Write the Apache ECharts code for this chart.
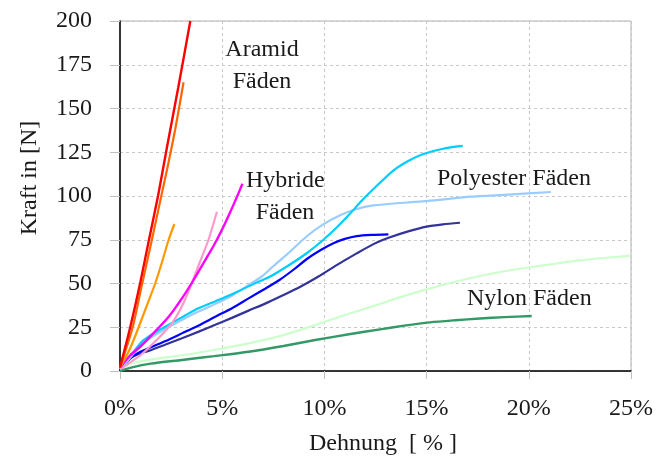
<!DOCTYPE html>
<html><head><meta charset="utf-8">
<script src="https://cdn.jsdelivr.net/npm/echarts@6/dist/echarts.min.js"></script>
<style>html,body{margin:0;padding:0;background:#fff}#c{width:658px;height:461px}</style>
</head><body><div id="c"></div>
<script>
// x: Dehnung in %, y: Kraft in N
const xTicks = [0, 5, 10, 15, 20, 25];
const yTicks = [0, 25, 50, 75, 100, 125, 150, 175, 200];

const aramid1 = [[0,2],[0.5,25],[1,51],[1.4,74],[1.86,100],[2.3,128],[2.85,162],[3.44,200]];
const aramid2 = [[0,2],[0.62,25],[1.05,48],[1.56,75],[2.02,100],[2.3,115],[2.7,138],[3.11,165]];
const aramid3 = [[0,2],[0.5,13],[0.91,25],[1.3,37],[1.72,50],[2.05,62],[2.38,75],[2.66,84]];
const hybrid1 = [[0,2],[0.5,9],[1,14],[1.56,20.6],[2.38,31],[3.03,41.5],[3.6,52],[4.1,62],[4.6,72],[5.0,81],[5.4,91],[5.72,99.5],[5.99,107]];
const hybrid2 = [[0,1],[0.5,5],[1,9],[1.72,16.8],[2.54,27.3],[3.03,37],[3.44,48],[3.9,62],[4.33,75],[4.74,91]];
const poly1 = [[0,2],[0.3,6],[0.67,11],[1.07,16.8],[1.5,20.5],[2.21,25.3],[3.0,30.5],[3.84,35.8],[4.7,40],[5.5,44],[6.5,49.5],[7.35,54],[8.2,60],[9.1,67],[9.95,75],[10.6,82],[11.26,90],[11.8,97],[12.4,104],[13.37,114.5],[14.1,120],[14.84,124],[15.8,127],[16.77,128.6]];
const poly2 = [[0,2],[0.3,5],[0.67,10],[1.07,15],[1.5,19],[2.21,24],[3.0,29],[3.84,34],[4.7,38.5],[5.47,43],[6.2,48.5],[6.94,54],[7.51,60],[8.3,68],[9.14,77],[9.9,83.5],[10.77,89],[11.5,92.3],[12.4,94.6],[14.03,96.3],[15.5,97.6],[17.12,99.6],[19,100.8],[21.08,102.3]];
const poly3 = [[0,2],[0.3,5],[0.59,8.2],[1.0,11],[1.4,13],[2.2,17],[3.03,21.5],[3.85,26],[4.66,31],[5.5,36],[6.29,41.5],[7.1,47],[7.8,52],[8.5,58],[9.14,64],[9.8,69],[10.44,73],[11.0,75.5],[11.58,77.1],[12.3,77.8],[13.13,78.1]];
const poly4 = [[0,2],[0.3,5],[0.6,8],[1.0,10],[1.4,11.5],[2.2,15],[3.03,18.7],[3.85,22.5],[4.66,26.4],[5.5,30.5],[6.29,34.5],[7.1,38.5],[7.92,43],[8.8,48],[9.71,54],[10.6,60.5],[11.58,67.2],[12.4,72.5],[13.21,76.4],[14.1,79.8],[15.0,82.5],[15.8,83.8],[16.63,84.7]];
const nylon1 = [[0,1],[0.59,4.4],[1.5,6.5],[3.03,9],[4.6,12],[6.29,15.8],[8,20.5],[9.55,26.3],[11,32],[12.5,37.5],[13.8,42.5],[15.17,47.2],[16.4,51],[17.61,54.3],[18.8,57],[20.06,59.3],[21.3,61.3],[22.5,63.2],[23.8,64.7],[25,65.9]];
const nylon2 = [[0,0],[0.59,2.1],[1.5,4.2],[3.03,6.3],[4.6,8.5],[6.29,11],[8,14.3],[9.55,17.7],[11.2,21],[12.72,23.8],[13.9,25.9],[15.17,27.8],[16.4,29.0],[17.61,30.0],[18.8,30.8],[20.14,31.4]];

const seriesDefs = [
  {data: nylon1, color: '#CCFFCC', w: 2.2},
  {data: nylon2, color: '#339966', w: 2.4},
  {data: poly4, color: '#333399', w: 2.2},
  {data: poly3, color: '#0000FF', w: 2.2},
  {data: poly2, color: '#99CCFF', w: 2.2},
  {data: poly1, color: '#00CCFF', w: 2.2},
  {data: hybrid2, color: '#FF99CC', w: 2.2},
  {data: hybrid1, color: '#FF00FF', w: 2.4},
  {data: aramid3, color: '#FF9900', w: 2.2},
  {data: aramid2, color: '#FF6600', w: 2.2},
  {data: aramid1, color: '#FF0000', w: 2.4}
];

const FONT = 'Liberation Serif';
const FS = 24;
const TXT = '#1a1a1a';
const chart = echarts.init(document.getElementById('c'), null, {renderer: 'canvas'});
const labelStyle = (x, y, text, align, rot) => ({
  type: 'text', x: x, y: y, rotation: rot || 0,
  style: {text: text, font: FS + 'px "' + FONT + '"', fill: TXT, textAlign: align || 'center', textVerticalAlign: 'middle'}
});
chart.setOption({
  animation: false,
  grid: {left: 120, right: 27, top: 21, bottom: 90, show: true, borderColor: '#b0b0b0', borderWidth: 1,
         containLabel: false, outerBoundsMode: 'none'},
  xAxis: {
    type: 'value', min: xTicks[0], max: xTicks[xTicks.length - 1], interval: 5,
    axisLine: {show: true, onZero: false, lineStyle: {color: '#000', width: 1.5}},
    axisTick: {show: true, length: 8, lineStyle: {color: '#c0c0c0'}},
    axisLabel: {formatter: '{value}%', fontFamily: FONT, fontSize: FS, color: TXT, margin: 26},
    splitLine: {show: true, lineStyle: {color: '#c8c8c8', type: [3, 3], width: 1}}
  },
  yAxis: {
    type: 'value', min: yTicks[0], max: yTicks[yTicks.length - 1], interval: 25,
    axisLine: {show: true, onZero: false, lineStyle: {color: '#000', width: 1.5}},
    axisTick: {show: true, length: 10, lineStyle: {color: '#c0c0c0'}},
    axisLabel: {fontFamily: FONT, fontSize: FS, color: TXT, margin: 28},
    splitLine: {show: true, lineStyle: {color: '#c8c8c8', type: [3, 3], width: 1}}
  },
  series: seriesDefs.map(s => ({
    type: 'line', data: s.data, smooth: 0.25, showSymbol: false, symbol: 'none',
    lineStyle: {color: s.color, width: s.w}, itemStyle: {color: s.color}, clip: true, z: 3
  })),
  graphic: [
    labelStyle(383, 444, 'Dehnung  [ % ]'),
    labelStyle(30, 178, 'Kraft in [N]', 'center', Math.PI / 2),
    labelStyle(262, 50, 'Aramid'),
    labelStyle(262, 82, 'Fäden'),
    labelStyle(246, 181, 'Hybride', 'left'),
    labelStyle(285, 213, 'Fäden'),
    labelStyle(437, 179, 'Polyester Fäden', 'left'),
    labelStyle(467, 299, 'Nylon Fäden', 'left')
  ]
});
</script></body></html>
